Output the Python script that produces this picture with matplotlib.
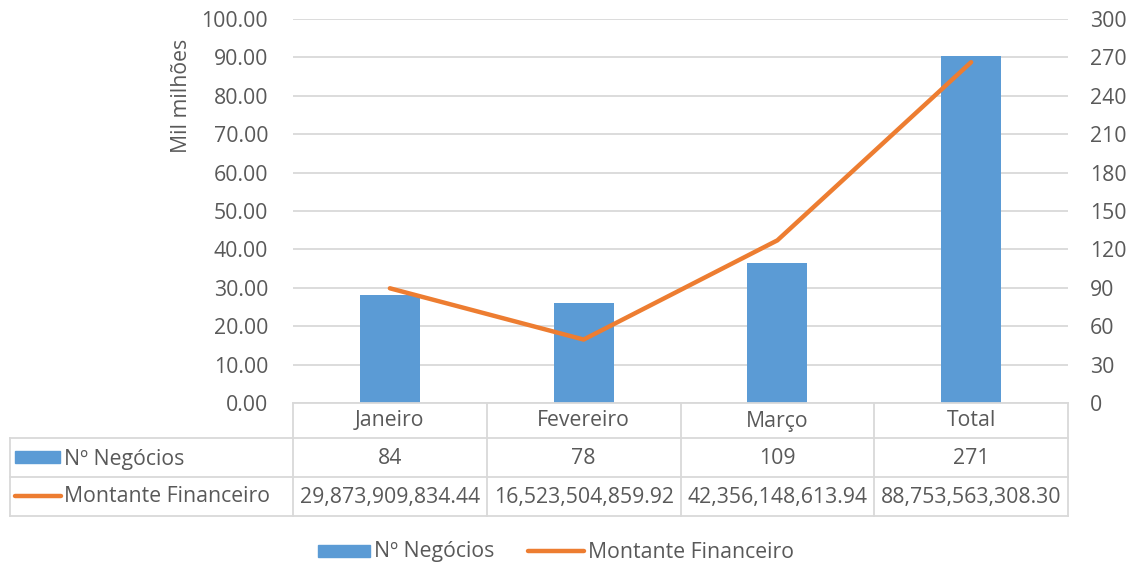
import matplotlib.pyplot as plt
from matplotlib.patches import Rectangle
from matplotlib.lines import Line2D
from matplotlib.transforms import blended_transform_factory

plt.rcParams['font.family'] = ['Open Sans', 'DejaVu Sans']

# Data
meses = ["Janeiro", "Fevereiro", "Março", "Total"]
negocios = [84, 78, 109, 271]
montante = [29873909834.44, 16523504859.92, 42356148613.94, 88753563308.30]

BLUE = "#5B9BD5"
ORANGE = "#ED7D31"
TXT = "#595959"
GRID = "#D9D9D9"
FS = 15.3

W, H = 1131, 562
fig = plt.figure(figsize=(W / 100, H / 100), dpi=100)


def fx(px):
    return px / W


def fy(py):
    return 1 - py / H


# plot area
x0, x1, ytop, ybot = 293, 1068, 19, 403
ax = fig.add_axes([fx(x0), fy(ybot), fx(x1) - fx(x0), fy(ytop) - fy(ybot)])
ax2 = ax.twinx()
ax.set_zorder(ax2.get_zorder() + 1)
ax.patch.set_visible(False)

xs = list(range(len(meses)))

# bars on secondary axis
ax2.bar(xs, negocios, width=0.31, color=BLUE, zorder=3)
ax2.set_ylim(0, 300)
ax2.set_yticks(range(0, 301, 30))
ax2.grid(axis="y", color=GRID, linewidth=1.3, zorder=0)
ax2.set_axisbelow(True)

# line on primary axis, in thousand millions
ax.plot(xs, [v / 1e9 for v in montante], color=ORANGE, linewidth=3.2,
        solid_capstyle="round", solid_joinstyle="round")
ax.set_ylim(0, 100)
ax.set_yticks(range(0, 101, 10))
ax.set_yticklabels([f"{v:.2f}" for v in range(0, 101, 10)])
ax.set_xlim(-0.5, len(meses) - 0.5)
ax.set_xticks([])
ax2.set_xticks([])
ax.set_ylabel("Mil milhões", fontsize=FS, color=TXT, labelpad=8)
ax.yaxis.set_label_coords(-0.130, 0.80)

for a in (ax, ax2):
    for s in a.spines.values():
        s.set_visible(False)
    a.tick_params(axis="y", length=0, labelsize=FS, labelcolor=TXT)
ax.tick_params(axis="y", pad=18)
ax2.tick_params(axis="y", pad=16)

# data table
rows = [403, 438, 477, 516]
cols = [293, 487, 681, 874, 1068]
lw = 1.3
for r in rows[1:]:
    fig.add_artist(Line2D([fx(10), fx(1068)], [fy(r), fy(r)], color=GRID, lw=lw))
fig.add_artist(Line2D([fx(293), fx(1068)], [fy(403), fy(403)], color=GRID, lw=lw))
for c in cols:
    fig.add_artist(Line2D([fx(c), fx(c)], [fy(403), fy(516)], color=GRID, lw=lw))
fig.add_artist(Line2D([fx(10), fx(10)], [fy(438), fy(516)], color=GRID, lw=lw))

tr = blended_transform_factory(ax.transData, fig.transFigure)
for i, m in enumerate(meses):
    ax.text(i, fy(421), m, transform=tr, ha="center", va="center",
            fontsize=FS, color=TXT, clip_on=False)
    ax.text(i, fy(459), f"{negocios[i]}", transform=tr, ha="center", va="center",
            fontsize=FS, color=TXT, clip_on=False)
    ax.text(i, fy(497), f"{montante[i]:,.2f}", transform=tr, ha="center", va="center",
            fontsize=FS, color=TXT, clip_on=False)

# row legend keys
fig.add_artist(Rectangle((fx(15), fy(463)), fx(60) - fx(15), fy(451) - fy(463),
                         color=BLUE))
fig.text(fx(64), fy(459), "Nº Negócios", ha="left", va="center", fontsize=FS, color=TXT)
fig.add_artist(Line2D([fx(15), fx(61)], [fy(496), fy(496)], color=ORANGE, lw=3.2,
                      solid_capstyle="round"))
fig.text(fx(64), fy(497), "Montante Financeiro", ha="left", va="center",
         fontsize=FS, color=TXT)

# bottom legend
fig.add_artist(Rectangle((fx(318), fy(557)), fx(370) - fx(318), fy(545) - fy(557),
                         color=BLUE))
fig.text(fx(374), fy(552), "Nº Negócios", ha="left", va="center", fontsize=FS, color=TXT)
fig.add_artist(Line2D([fx(528), fx(584)], [fy(551), fy(551)], color=ORANGE, lw=3.2,
                      solid_capstyle="round"))
fig.text(fx(588), fy(552), "Montante Financeiro", ha="left", va="center",
         fontsize=FS, color=TXT)

fig.savefig("out.png", dpi=100)
